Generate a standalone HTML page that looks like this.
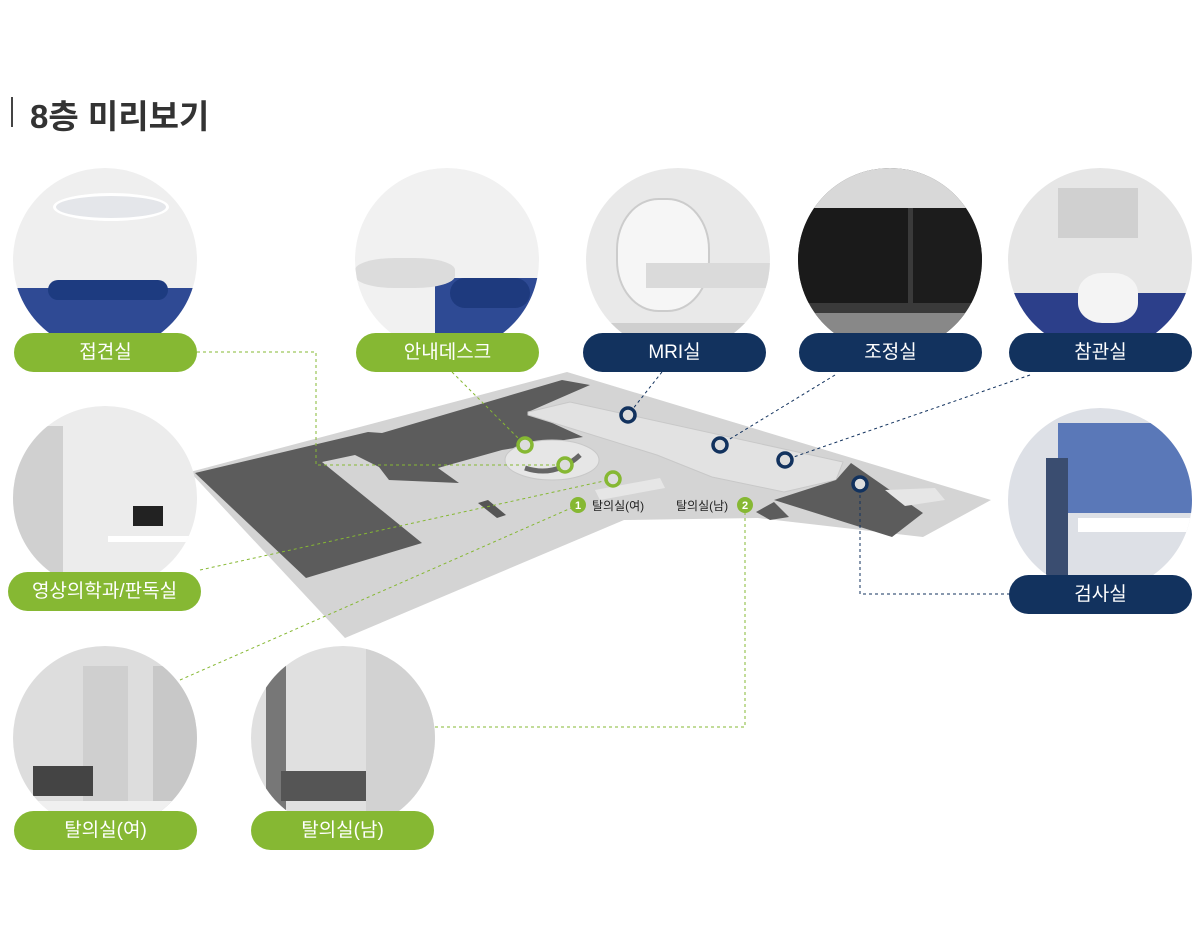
<!DOCTYPE html>
<html><head><meta charset="utf-8"><style>
body{margin:0;width:1200px;height:945px;background:#fff;position:relative;overflow:hidden;font-family:"Liberation Sans","Noto Sans CJK KR",sans-serif}
.t{position:absolute;left:30px;top:90px;font-size:33px;font-weight:bold;color:#333;letter-spacing:0px}
.bar{position:absolute;left:11px;top:97px;width:2px;height:30px;background:#444}
.c{position:absolute;width:184px;height:184px;border-radius:50%;overflow:hidden}
.c div{position:absolute}
.p{position:absolute;width:183px;height:39px;border-radius:20px;color:#fff;font-size:19px;text-align:center;line-height:39px}
.g{background:#86b833}.n{background:#12325e}
</style></head><body>
<div class="bar"></div><div class="t">8층 미리보기</div>
<svg width="1200" height="945" style="position:absolute;left:0;top:0">
<polygon points="190,472 567,372 991,500 923,537 758,518 624,520 345,638" fill="#d4d4d4"/>
<polygon points="195,473 368,432 382,433 562,380 590,385 528,412 583,437 502,450 438,468 459,483 389,480 379,467 355,455 322,462 422,543 306,578" fill="#5c5c5c"/>
<polygon points="528,412 570,402 843,462 836,480 784,492 712,477 657,455 528,415" fill="#e2e2e2" stroke="#c8c8c8"/>
<polygon points="836,480 851,463 923,513 892,537 774,500" fill="#5c5c5c"/>
<polygon points="756,512 774,502 789,517 770,520" fill="#5c5c5c"/>
<ellipse cx="552" cy="460" rx="47" ry="20" fill="#e6e6e6" stroke="#c8c8c8"/>
<path d="M525,468 Q555,478 580,455" stroke="#666" stroke-width="5" fill="none"/>
<polygon points="595,490 660,478 665,488 600,500" fill="#e6e6e6"/>
<polygon points="478,503 488,500 506,515 497,518" fill="#555"/>
<polygon points="885,490 935,488 945,500 905,506" fill="#e6e6e6"/>
<g fill="none" stroke-width="1" stroke-dasharray="3,3">
<polyline points="197,352 316,352 316,465 565,465" stroke="#86b833"/>
<line x1="452" y1="372" x2="525" y2="445" stroke="#86b833"/>
<line x1="200" y1="570" x2="613" y2="479" stroke="#86b833"/>
<line x1="180" y1="680" x2="578" y2="505" stroke="#86b833"/>
<polyline points="435,727 745,727 745,510" stroke="#86b833"/>
<line x1="662" y1="372" x2="628" y2="415" stroke="#12325e"/>
<line x1="835" y1="375" x2="720" y2="445" stroke="#12325e"/>
<line x1="1030" y1="375" x2="785" y2="460" stroke="#12325e"/>
<polyline points="1010,594 860,594 860,484" stroke="#12325e"/>
</g>
<g stroke-width="3.5" fill="#ddd">
<circle cx="525" cy="445" r="7" stroke="#86b833"/><circle cx="565" cy="465" r="7" stroke="#86b833"/><circle cx="613" cy="479" r="7" stroke="#86b833"/>
<circle cx="628" cy="415" r="7" stroke="#12325e"/><circle cx="720" cy="445" r="7" stroke="#12325e"/><circle cx="785" cy="460" r="7" stroke="#12325e"/><circle cx="860" cy="484" r="7" stroke="#12325e"/>
</g>
<circle cx="578" cy="505" r="8" fill="#86b833"/><text x="578" y="509" font-size="11" fill="#fff" text-anchor="middle" font-weight="bold">1</text>
<text x="592" y="510" font-size="12" fill="#222">탈의실(여)</text>
<circle cx="745" cy="505" r="8" fill="#86b833"/><text x="745" y="509" font-size="11" fill="#fff" text-anchor="middle" font-weight="bold">2</text>
<text x="676" y="510" font-size="12" fill="#222">탈의실(남)</text>
</svg>
<div class="c" style="left:13px;top:168px;background:#efefef"><div style="left:0;top:120px;width:184px;height:70px;background:#2f4a94"></div><div style="left:35px;top:112px;width:120px;height:20px;border-radius:10px;background:#1d3b80"></div><div style="left:40px;top:25px;width:110px;height:22px;border-radius:50%;border:3px solid #fff;background:#e4e6ea"></div></div>
<div class="c" style="left:355px;top:168px;background:#f1f1f1"><div style="left:80px;top:110px;width:110px;height:80px;background:#2e4a94"></div><div style="left:95px;top:110px;width:80px;height:30px;border-radius:15px;background:#1e3a7e"></div><div style="left:0;top:90px;width:100px;height:30px;background:#dcdcdc;border-radius:40%"></div></div>
<div class="c" style="left:586px;top:168px;background:#e9e9e9"><div style="left:30px;top:30px;width:90px;height:110px;border-radius:45%;background:#f6f6f6;border:2px solid #ccc"></div><div style="left:60px;top:95px;width:130px;height:25px;background:#dadada"></div><div style="left:0;top:155px;width:184px;height:30px;background:#cfcfcf"></div></div>
<div class="c" style="left:798px;top:168px;background:#3a3a3a"><div style="left:0;top:40px;width:110px;height:95px;background:#1a1a1a"></div><div style="left:115px;top:40px;width:70px;height:95px;background:#1c1c1c"></div><div style="left:0;top:0;width:184px;height:40px;background:#d8d8d8"></div><div style="left:0;top:145px;width:184px;height:40px;background:#888"></div></div>
<div class="c" style="left:1008px;top:168px;background:#e6e6e6"><div style="left:0;top:125px;width:184px;height:60px;background:#2c3f8a"></div><div style="left:70px;top:105px;width:60px;height:50px;border-radius:40%;background:#f4f4f4"></div><div style="left:50px;top:20px;width:80px;height:50px;background:#d0d0d0"></div></div>
<div class="c" style="left:1008px;top:408px;background:#dde0e6"><div style="left:50px;top:15px;width:140px;height:90px;background:#5a78b8"></div><div style="left:70px;top:110px;width:120px;height:14px;background:#fff"></div><div style="left:38px;top:50px;width:22px;height:120px;background:#3a4d70"></div></div>
<div class="c" style="left:13px;top:406px;background:#ececec"><div style="left:0;top:20px;width:50px;height:150px;background:#d0d0d0"></div><div style="left:120px;top:100px;width:30px;height:20px;background:#222"></div><div style="left:95px;top:130px;width:90px;height:6px;background:#fff"></div></div>
<div class="c" style="left:13px;top:646px;background:#dddddd"><div style="left:70px;top:20px;width:45px;height:140px;background:#cfcfcf"></div><div style="left:20px;top:120px;width:60px;height:30px;background:#444"></div><div style="left:140px;top:20px;width:44px;height:150px;background:#c8c8c8"></div><div style="left:0;top:155px;width:184px;height:30px;background:#f0f0f0"></div></div>
<div class="c" style="left:251px;top:646px;background:#e0e0e0"><div style="left:15px;top:0;width:20px;height:184px;background:#777"></div><div style="left:30px;top:125px;width:85px;height:30px;background:#555"></div><div style="left:115px;top:0;width:69px;height:184px;background:#d2d2d2"></div></div>
<div class="p g" style="left:14px;top:333px">접견실</div>
<div class="p g" style="left:356px;top:333px">안내데스크</div>
<div class="p n" style="left:583px;top:333px">MRI실</div>
<div class="p n" style="left:799px;top:333px">조정실</div>
<div class="p n" style="left:1009px;top:333px">참관실</div>
<div class="p g" style="left:8px;top:572px;width:193px">영상의학과/판독실</div>
<div class="p n" style="left:1009px;top:575px">검사실</div>
<div class="p g" style="left:14px;top:811px">탈의실(여)</div>
<div class="p g" style="left:251px;top:811px">탈의실(남)</div>
</body></html>
